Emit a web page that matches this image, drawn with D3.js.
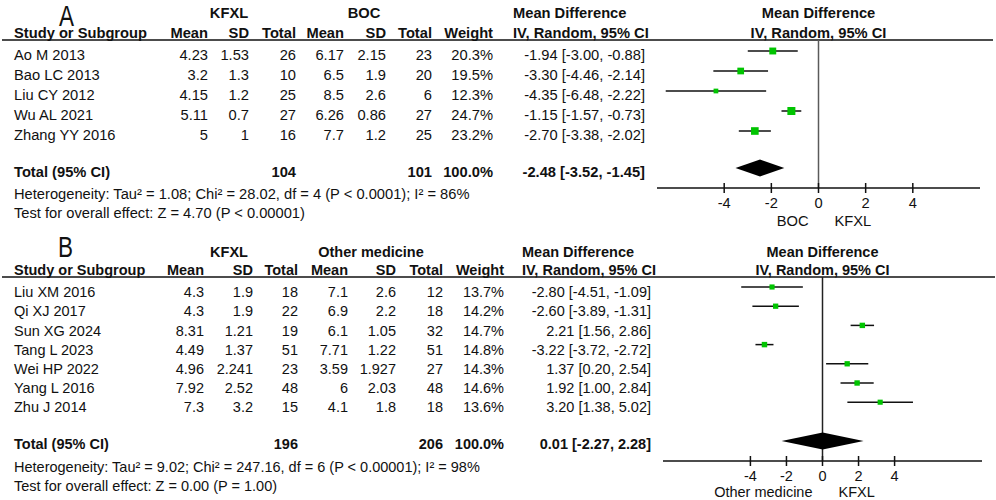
<!DOCTYPE html>
<html>
<head>
<meta charset="utf-8">
<script src="https://cdn.jsdelivr.net/npm/d3@7"></script>
<style>
  body { margin: 0; background: #fff; }
  svg { display: block; font-family: "Liberation Sans", Arial, sans-serif; }
</style>
</head>
<body>
<div id="chart"></div>
<script>
// ---- panel A : KFXL vs BOC ----
const studiesA  = ["Ao M 2013", "Bao LC 2013", "Liu CY 2012", "Wu AL 2021", "Zhang YY 2016"];
const kfxlMeanA = [4.23, 3.2, 4.15, 5.11, 5];
const kfxlSdA   = [1.53, 1.3, 1.2, 0.7, 1];
const kfxlNA    = [26, 10, 25, 27, 16];
const ctrlMeanA = [6.17, 6.5, 8.5, 6.26, 7.7];
const ctrlSdA   = [2.15, 1.9, 2.6, 0.86, 1.2];
const ctrlNA    = [23, 20, 6, 27, 25];
const weightA   = [20.3, 19.5, 12.3, 24.7, 23.2];
const mdA       = [-1.94, -3.30, -4.35, -1.15, -2.70];
const loA       = [-3.00, -4.46, -6.48, -1.57, -3.38];
const hiA       = [-0.88, -2.14, -2.22, -0.73, -2.02];
const pooledA   = [-2.48, -3.52, -1.45];   // md, lower, upper
const totalNA   = [104, 101];
const hetA  = "Heterogeneity: Tau² = 1.08; Chi² = 28.02, df = 4 (P < 0.0001); I² = 86%";
const testA = "Test for overall effect: Z = 4.70 (P < 0.00001)";

// ---- panel B : KFXL vs other medicine ----
const studiesB  = ["Liu XM 2016", "Qi XJ 2017", "Sun XG 2024", "Tang L 2023", "Wei HP 2022", "Yang L 2016", "Zhu J 2014"];
const kfxlMeanB = [4.3, 4.3, 8.31, 4.49, 4.96, 7.92, 7.3];
const kfxlSdB   = [1.9, 1.9, 1.21, 1.37, 2.241, 2.52, 3.2];
const kfxlNB    = [18, 22, 19, 51, 23, 48, 15];
const ctrlMeanB = [7.1, 6.9, 6.1, 7.71, 3.59, 6, 4.1];
const ctrlSdB   = [2.6, 2.2, 1.05, 1.22, 1.927, 2.03, 1.8];
const ctrlNB    = [12, 18, 32, 51, 27, 48, 18];
const weightB   = [13.7, 14.2, 14.7, 14.8, 14.3, 14.6, 13.6];
const mdB       = [-2.80, -2.60, 2.21, -3.22, 1.37, 1.92, 3.20];
const loB       = [-4.51, -3.89, 1.56, -3.72, 0.20, 1.00, 1.38];
const hiB       = [-1.09, -1.31, 2.86, -2.72, 2.54, 2.84, 5.02];
const pooledB   = [0.01, -2.27, 2.28];
const totalNB   = [196, 206];
const hetB  = "Heterogeneity: Tau² = 9.02; Chi² = 247.16, df = 6 (P < 0.00001); I² = 98%";
const testB = "Test for overall effect: Z = 0.00 (P = 1.00)";

const ticks = [-4, -2, 0, 2, 4];
const colHeads = ["Mean", "SD", "Total", "Mean", "SD", "Total", "Weight"];

// layout (pixel positions)
const layoutA = {
  label: "A", labelX: 59, labelBase: 26,
  grp: ["KFXL", "BOC"], grpX: [229, 364], grpY: 13, hdrY: 33, lineY: 40, lineX2: 993,
  rowY0: 55, rowStep: 20, totalY: 172, hetY: 194, testY: 213,
  cols: [208, 249, 296, 344, 386, 432, 493], mdHdrX: 513, mdValX: 645,
  range: [657, 980], dom: [-6.85, 6.85], axisY: 188, tickY: 203, sideY: 221,
  side: ["BOC", "KFXL"], fs: 14.7, zeroColor: "#5a5a5a", markUp: 4, diaUp: 4
};
const layoutB = {
  label: "B", labelX: 58, labelBase: 257,
  grp: ["KFXL", "Other medicine"], grpX: [229, 371], grpY: 252, hdrY: 270, lineY: 277, lineX2: 995,
  rowY0: 292, rowStep: 19.2, totalY: 444, hetY: 467, testY: 486,
  cols: [204, 253, 298, 348, 396, 443, 504], mdHdrX: 522, mdValX: 651,
  range: [663, 982], dom: [-8.85, 8.85], axisY: 461, tickY: 476, sideY: 492,
  side: ["Other medicine", "KFXL"], fs: 14.5, zeroColor: "#222", markUp: 5, diaUp: 3
};

const width = 996, height = 500;
const svg = d3.select("#chart").append("svg")
  .attr("width", width).attr("height", height);

// square side grows with study weight
const boxSize = d3.scalePow().exponent(0.75).domain([0, 24.7]).range([0, 8]);

function drawPanel(L, d) {
  const g = svg.append("g");
  const base = cy => cy + 0.36 * L.fs;        // vertical centre -> baseline
  const x = d3.scaleLinear().domain(L.dom).range(L.range);
  const rowY = i => L.rowY0 + i * L.rowStep;

  function txt(str, px, cy, anchor, bold, size) {
    return g.append("text")
      .attr("x", px).attr("y", base(cy))
      .attr("text-anchor", anchor || "start")
      .attr("font-size", size || L.fs)
      .attr("font-weight", bold ? "bold" : "normal")
      .attr("fill", "#111")
      .text(str);
  }

  // panel letter (narrow glyph)
  g.append("text")
    .attr("transform", `translate(${L.labelX},${L.labelBase}) scale(0.75,1)`)
    .attr("font-size", 30).attr("fill", "#111")
    .text(L.label);

  // group headers
  txt(L.grp[0], L.grpX[0], L.grpY, "middle", true);
  txt(L.grp[1], L.grpX[1], L.grpY, "middle", true);
  txt("Mean Difference", L.mdHdrX, L.grpY, "start", true);
  txt("Mean Difference", x(0), L.grpY, "middle", true);

  // column headers
  txt("Study or Subgroup", 14, L.hdrY, "start", true);
  colHeads.forEach((h, i) => txt(h, L.cols[i], L.hdrY, "end", true));
  txt("IV, Random, 95% CI", L.mdHdrX, L.hdrY, "start", true);
  txt("IV, Random, 95% CI", x(0), L.hdrY, "middle", true);

  g.append("line")
    .attr("x1", 2).attr("x2", L.lineX2)
    .attr("y1", L.lineY).attr("y2", L.lineY)
    .attr("stroke", "#111").attr("stroke-width", 1.5);

  // study rows
  d.studies.forEach((s, i) => {
    const cy = rowY(i);
    txt(s, 14, cy);
    const vals = [d.m1[i], d.s1[i], d.n1[i], d.m2[i], d.s2[i], d.n2[i], d.w[i].toFixed(1) + "%"];
    vals.forEach((v, k) => txt(v, L.cols[k], cy, "end"));
    txt(`${d.md[i].toFixed(2)} [${d.lo[i].toFixed(2)}, ${d.hi[i].toFixed(2)}]`, L.mdValX, cy, "end");
  });

  // total row
  txt("Total (95% CI)", 14, L.totalY, "start", true);
  txt(d.totN[0], L.cols[2], L.totalY, "end", true);
  txt(d.totN[1], L.cols[5], L.totalY, "end", true);
  txt("100.0%", L.cols[6], L.totalY, "end", true);
  txt(`${d.pooled[0].toFixed(2)} [${d.pooled[1].toFixed(2)}, ${d.pooled[2].toFixed(2)}]`, L.mdValX, L.totalY, "end", true);
  txt(d.het, 14, L.hetY);
  txt(d.test, 14, L.testY);

  // zero line
  g.append("line")
    .attr("x1", x(0)).attr("x2", x(0))
    .attr("y1", L.lineY).attr("y2", L.axisY)
    .attr("stroke", L.zeroColor).attr("stroke-width", 1.5);

  // CI whiskers + squares
  const rows = d.studies.map((s, i) => ({ i, md: d.md[i], lo: d.lo[i], hi: d.hi[i], w: d.w[i] }));
  g.selectAll(".ci").data(rows).enter().append("line")
    .attr("class", "ci")
    .attr("x1", r => x(r.lo)).attr("x2", r => x(r.hi))
    .attr("y1", r => rowY(r.i) - L.markUp).attr("y2", r => rowY(r.i) - L.markUp)
    .attr("stroke", "#111").attr("stroke-width", 1.5);
  g.selectAll(".box").data(rows).enter().append("rect")
    .attr("class", "box")
    .attr("x", r => x(r.md) - boxSize(r.w) / 2)
    .attr("y", r => rowY(r.i) - L.markUp - boxSize(r.w) / 2)
    .attr("width", r => boxSize(r.w)).attr("height", r => boxSize(r.w))
    .attr("fill", "#00c400");

  // pooled diamond
  const dy = L.totalY - L.diaUp;
  g.append("path")
    .attr("d", `M${x(d.pooled[1])},${dy} L${x(d.pooled[0])},${dy - 8.5} L${x(d.pooled[2])},${dy} L${x(d.pooled[0])},${dy + 8.5} Z`)
    .attr("fill", "#000");

  // axis
  g.append("line")
    .attr("x1", L.range[0]).attr("x2", L.range[1])
    .attr("y1", L.axisY).attr("y2", L.axisY)
    .attr("stroke", "#111").attr("stroke-width", 1.5);
  g.selectAll(".tick").data(ticks).enter().append("line")
    .attr("x1", t => x(t)).attr("x2", t => x(t))
    .attr("y1", L.axisY - 5).attr("y2", L.axisY + 5)
    .attr("stroke", "#111").attr("stroke-width", 1.5);
  ticks.forEach(t => txt(t, x(t), L.tickY, "middle"));

  txt(L.side[0], x(0) - 10, L.sideY, "end");
  txt(L.side[1], x(0) + 16, L.sideY, "start");
}

drawPanel(layoutA, {
  studies: studiesA, m1: kfxlMeanA, s1: kfxlSdA, n1: kfxlNA,
  m2: ctrlMeanA, s2: ctrlSdA, n2: ctrlNA, w: weightA,
  md: mdA, lo: loA, hi: hiA, pooled: pooledA, totN: totalNA, het: hetA, test: testA
});
drawPanel(layoutB, {
  studies: studiesB, m1: kfxlMeanB, s1: kfxlSdB, n1: kfxlNB,
  m2: ctrlMeanB, s2: ctrlSdB, n2: ctrlNB, w: weightB,
  md: mdB, lo: loB, hi: hiB, pooled: pooledB, totN: totalNB, het: hetB, test: testB
});
</script>
</body>
</html>
